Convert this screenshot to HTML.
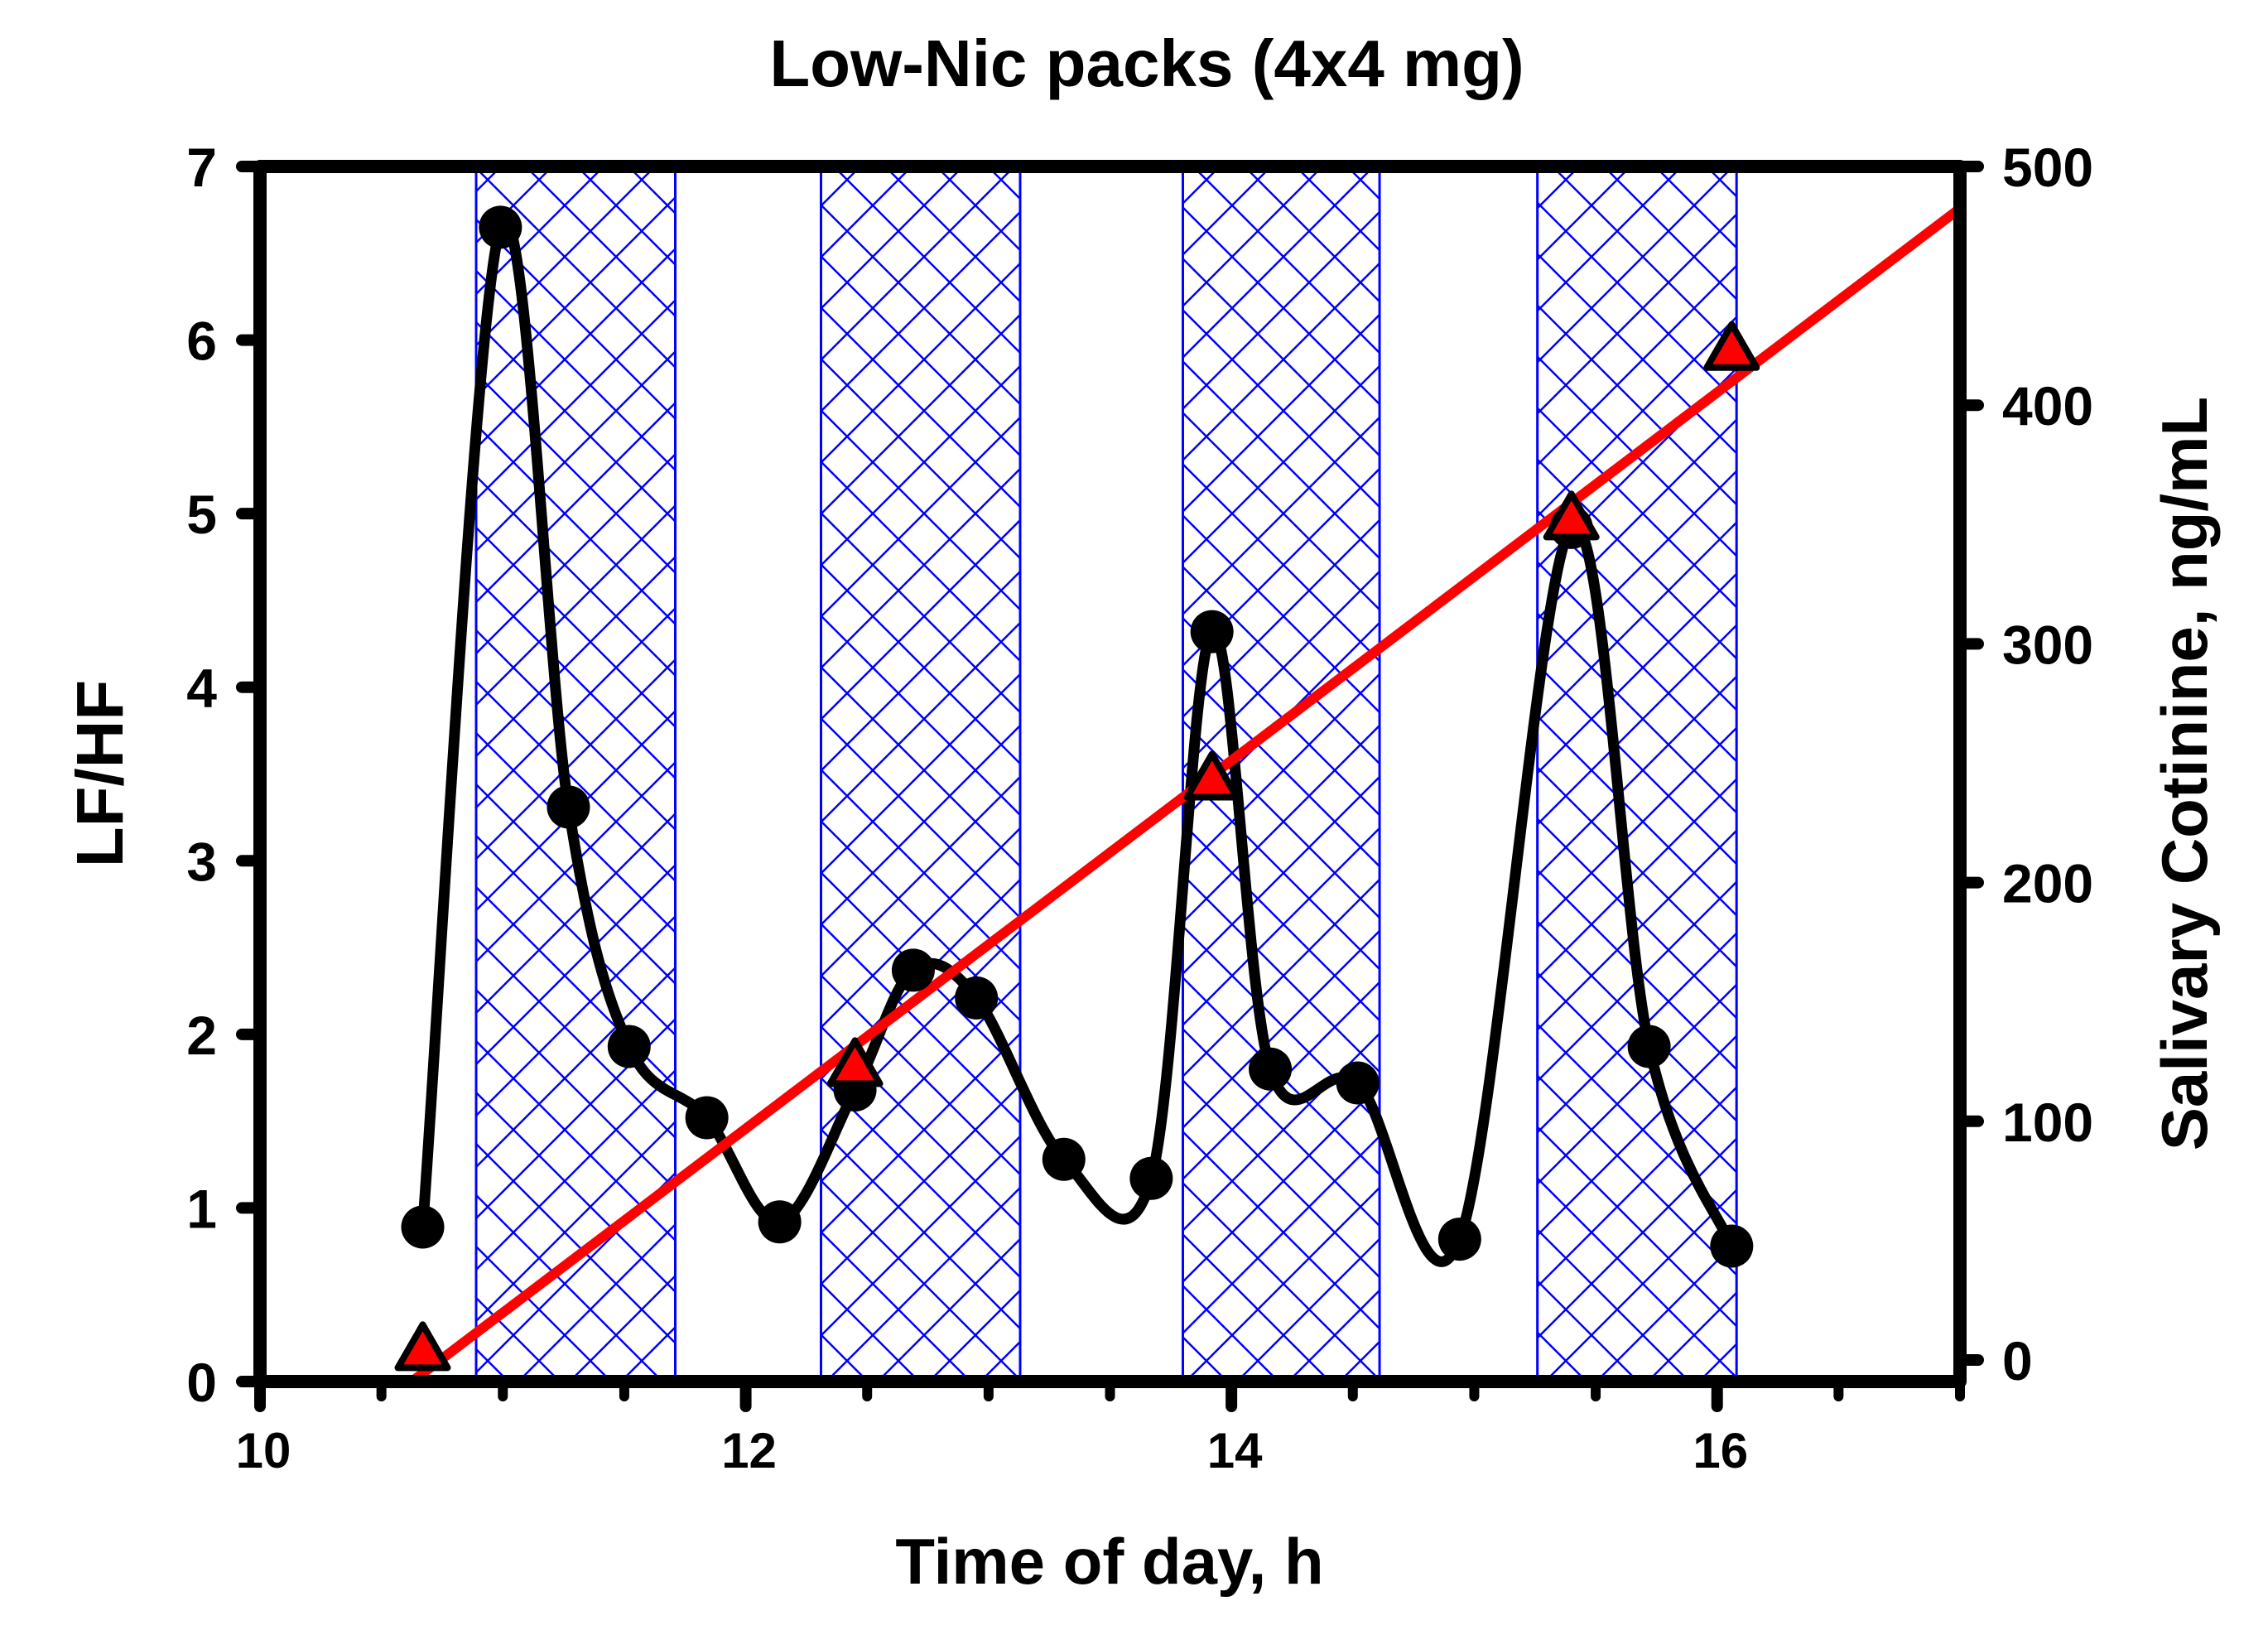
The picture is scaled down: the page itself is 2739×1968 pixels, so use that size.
<!DOCTYPE html>
<html><head><meta charset="utf-8">
<style>
html,body{margin:0;padding:0;background:#fff;}
svg{display:block;font-family:"Liberation Sans",Arial,sans-serif;font-weight:bold;}
</style></head>
<body>
<svg id="chart" width="2739" height="1968" viewBox="0 0 2739 1968" xmlns="http://www.w3.org/2000/svg">
<defs>
<pattern id="hatch" patternUnits="userSpaceOnUse" width="62" height="62">
<path d="M0,0 L62,62 M0,62 L62,0" stroke="#0000ff" stroke-width="2.5" fill="none"/>
</pattern>
</defs>
<g id="bands"></g>
<g id="series"></g>
<g id="axes"></g>
<text x="1385" y="104" font-size="80" text-anchor="middle">Low-Nic packs (4x4 mg)</text>
<text x="1340" y="1912" font-size="78" text-anchor="middle">Time of day, h</text>
<text transform="translate(148,934) rotate(-90)" font-size="80" text-anchor="middle">LF/HF</text>
<text transform="translate(2665,934) rotate(-90)" font-size="78" text-anchor="middle">Salivary Cotinine, ng/mL</text>
</svg>
<script>
// Data
const bandStarts = [10.89, 12.31, 13.80, 15.26];
const bandEnds = [11.71, 13.13, 14.61, 16.08];
const lfTimes = [10.67,10.99,11.27,11.52,11.84,12.14,12.45,12.69,12.95,13.31,13.67,13.92,14.16,14.52,14.94,15.40,15.72,16.06];
const lfValues = [0.89,6.65,3.31,1.93,1.52,0.92,1.68,2.37,2.21,1.28,1.17,4.32,1.80,1.72,0.82,4.92,1.93,0.78];
const cotTimes = [10.67,12.45,13.92,15.40,16.06];
const cotValues = [3,122,242,351,422];
const xTicks = [10,12,14,16];
const yLeftTicks = [0,1,2,3,4,5,6,7];
const yRightTicks = [0,100,200,300,400,500];

const NS="http://www.w3.org/2000/svg";
const X0=314, X1=2367, Y0=1668, Y1=201;
const xs = t => X0 + (t-10)/(17-10)*(X1-X0);
const yl = v => Y0 - v/7*(Y0-Y1);
const yr = v => 1642 - v/500*(1642-Y1);
function mk(tag, attrs, parent){const e=document.createElementNS(NS,tag);for(const k in attrs)e.setAttribute(k,attrs[k]);parent.appendChild(e);return e;}
const bands=document.getElementById('bands'), series=document.getElementById('series'), axes=document.getElementById('axes');

for(let i=0;i<bandStarts.length;i++){
  const r=mk('rect',{x:xs(bandStarts[i]),y:Y1+2,width:xs(bandEnds[i])-xs(bandStarts[i]),height:Y0-Y1-2,fill:'url(#hatch)',stroke:'#0000ff','stroke-width':3},bands);
  
  
}

const P=lfTimes.map((t,i)=>[xs(t),yl(lfValues[i])]);
let d='M'+P[0][0]+','+P[0][1];
for(let i=0;i<P.length-1;i++){
  const p0=P[Math.max(0,i-1)],p1=P[i],p2=P[i+1],p3=P[Math.min(P.length-1,i+2)];
  const c1=[p1[0]+(p2[0]-p0[0])/6,p1[1]+(p2[1]-p0[1])/6];
  const c2=[p2[0]-(p3[0]-p1[0])/6,p2[1]-(p3[1]-p1[1])/6];
  d+=` C${c1[0]},${c1[1]} ${c2[0]},${c2[1]} ${p2[0]},${p2[1]}`;
}
const curve=mk('path',{d:d,fill:'none',stroke:'#000','stroke-width':13,'stroke-linejoin':'round'},series);



const n=cotTimes.length;
const mx=cotTimes.reduce((a,b)=>a+b)/n, my=cotValues.reduce((a,b)=>a+b)/n;
let sxy=0,sxx=0;for(let i=0;i<n;i++){sxy+=(cotTimes[i]-mx)*(cotValues[i]-my);sxx+=(cotTimes[i]-mx)**2;}
const slope=sxy/sxx, icp=my-slope*mx;
const xa=10.64, xb=17;
const reg=mk('line',{x1:xs(xa),y1:yr(icp+slope*xa),x2:xs(xb),y2:yr(icp+slope*xb),stroke:'#ff0000','stroke-width':12},series);



for(let i=0;i<lfTimes.length;i++){
  const c=mk('circle',{cx:xs(lfTimes[i]),cy:yl(lfValues[i]),r:26,fill:'#000'},series);
  
  
}
for(let i=0;i<cotTimes.length;i++){
  const cx=xs(cotTimes[i]), cy=yr(cotValues[i]);
  const t=mk('polygon',{points:`${cx},${cy-34} ${cx-30},${cy+18} ${cx+30},${cy+18}`,fill:'#ff0000',stroke:'#000','stroke-width':8,'stroke-linejoin':'round'},series);
  
  
}

const frame=mk('path',{d:`M${X0},${Y1} L${X1},${Y1} L${X1},${Y0} L${X0},${Y0} Z`,fill:'none',stroke:'#000','stroke-width':16,'stroke-linejoin':'round'},axes);



for(let h=10;h<=17;h+=0.5){
  const major=xTicks.includes(h);
  const tk=mk('line',{x1:xs(h),y1:Y0,x2:xs(h),y2:Y0+(major?30:18),stroke:'#000','stroke-width':major?14:12,'stroke-linecap':'round'},axes);
  
  
}
xTicks.forEach(v=>{
  const t=mk('text',{x:xs(v)+4,y:1772,'font-size':60,'text-anchor':'middle'},axes);t.textContent=v;
  
  
});
yLeftTicks.forEach(v=>{
  const tk=mk('line',{x1:X0,y1:yl(v),x2:X0-22,y2:yl(v),stroke:'#000','stroke-width':14,'stroke-linecap':'round'},axes);
  
  
  const t=mk('text',{x:262,y:yl(v)+24,'font-size':66,'text-anchor':'end'},axes);t.textContent=v;
  
  
});
yRightTicks.forEach(v=>{
  const tk=mk('line',{x1:X1,y1:yr(v),x2:X1+22,y2:yr(v),stroke:'#000','stroke-width':14,'stroke-linecap':'round'},axes);
  
  
  const t=mk('text',{x:2418,y:yr(v)+24,'font-size':66,'text-anchor':'start'},axes);t.textContent=v;
  
  
});
</script>
</body></html>
